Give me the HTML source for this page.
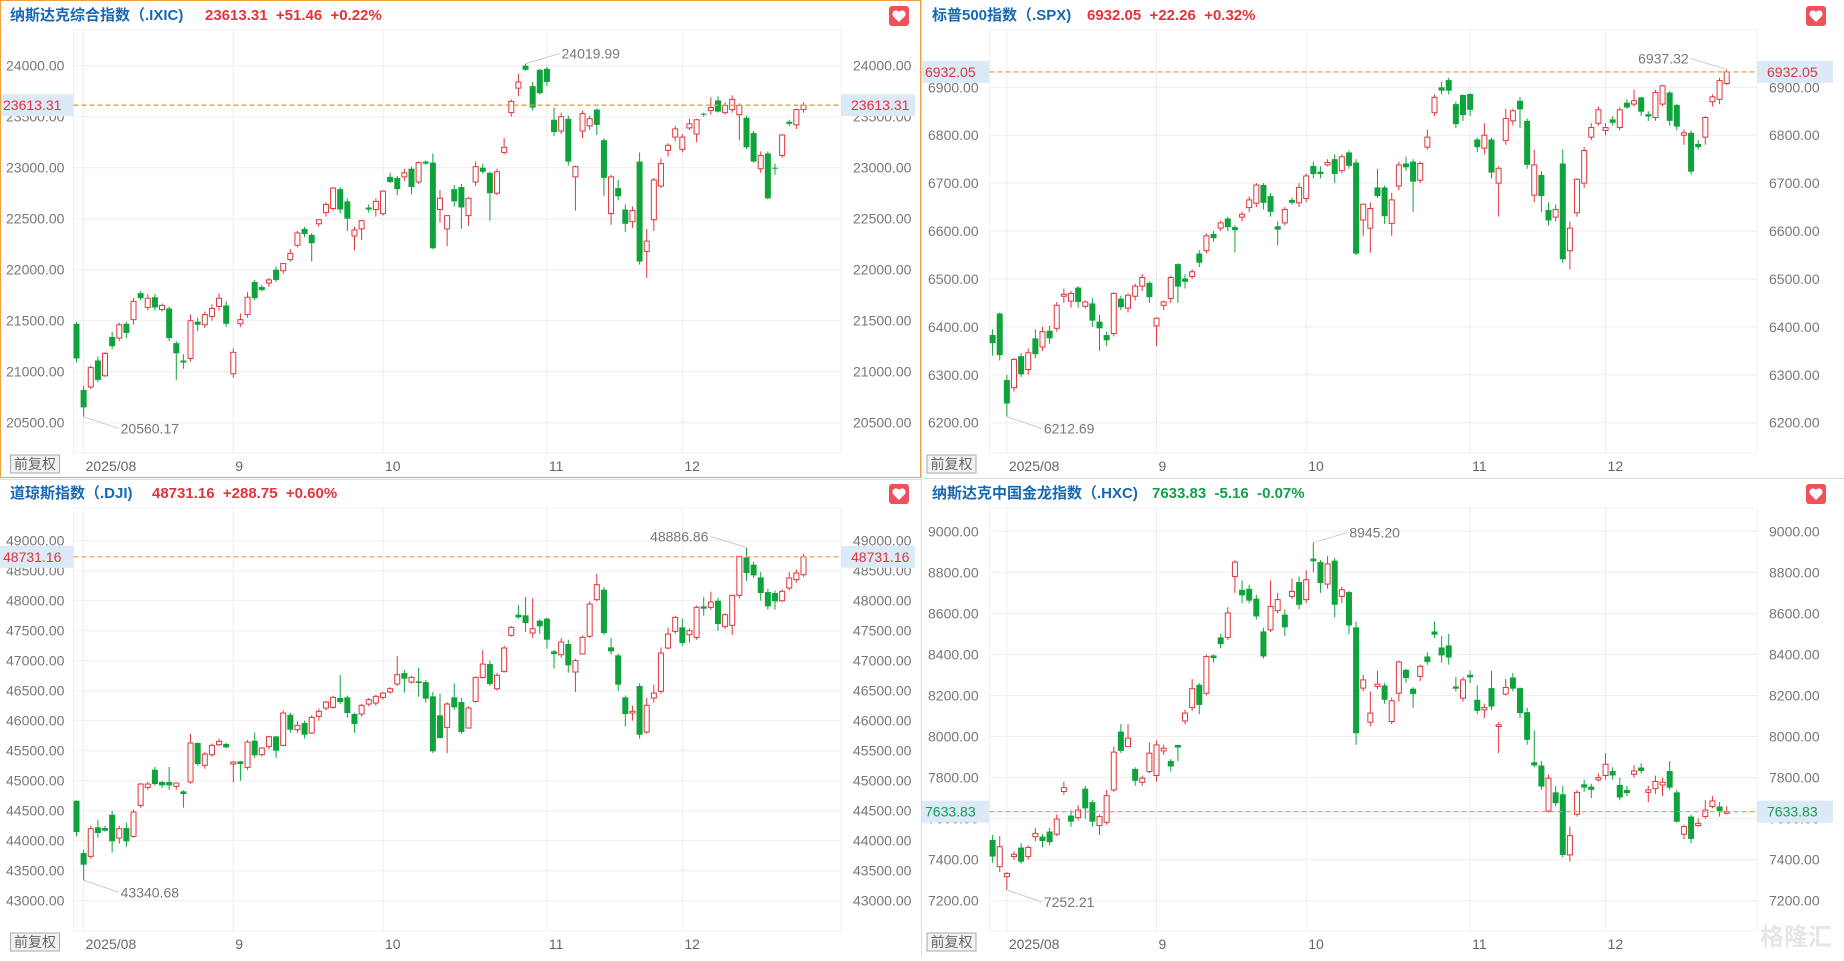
<!DOCTYPE html>
<html><head><meta charset="utf-8">
<style>
html,body{margin:0;padding:0;background:#fff;}
body{width:1844px;height:956px;overflow:hidden;font-family:"Liberation Sans","Noto Sans CJK SC",sans-serif;}
svg text{font-family:"Liberation Sans","Noto Sans CJK SC",sans-serif;}
</style></head><body>
<svg id="chart" width="1844" height="956" viewBox="0 0 1844 956" xmlns="http://www.w3.org/2000/svg"></svg>
<script>
// ===== IXIC =====
const ixicOpen=[21470,20820,20850,21110,20960,21340,21330,21470,21510,21770,21630,21730,21610,21620,21280,21110,21130,21490,21460,21540,21640,21650,20980,21470,21560,21880,21830,21870,22000,21990,22100,22240,22400,22340,22450,22560,22600,22790,22670,22330,22400,22610,22590,22550,22910,22900,22910,22990,22860,23060,23050,22590,22400,22790,22810,22530,22860,23000,22950,22750,23150,23540,23780,24000,23800,23960,23970,23470,23360,23480,22910,23360,23410,23570,23270,22550,22800,22590,22470,23060,22180,22490,22820,23170,23300,23180,23390,23330,23530,23560,23660,23540,23570,23520,23490,23340,22990,23140,23000,23120,23450,23420,23570];
const ixicClose=[21130,20650,21040,20920,21180,21250,21460,21380,21690,21720,21720,21630,21650,21330,21180,21090,21500,21460,21560,21620,21720,21470,21190,21510,21730,21720,21800,21900,21900,22060,22160,22360,22350,22260,22490,22640,22800,22590,22500,22390,22480,22590,22670,22770,22860,22790,22950,22810,23050,23040,22210,22700,22530,22670,22610,22700,23010,22960,22750,22960,23200,23650,23840,23960,23590,23730,23840,23350,23500,23060,23010,23530,23480,23420,22900,22910,22720,22450,22580,22080,22280,22880,23040,23220,23380,23300,23430,23470,23520,23590,23550,23610,23670,23610,23200,23060,23120,22700,22990,23320,23430,23570,23613.31];
const ixicHigh=[21490,20860,21060,21150,21190,21390,21480,21490,21720,21790,21760,21760,21670,21640,21300,21170,21560,21530,21590,21660,21770,21690,21230,21570,21780,21900,21850,21920,22030,22020,22200,22380,22420,22360,22490,22660,22810,22810,22700,22420,22490,22640,22700,22780,22950,22920,22990,23010,23060,23070,23140,22780,22500,22830,22840,22710,23060,23040,22960,22990,23290,23670,23920,24019.99,23840,23970,23990,23590,23540,23510,23020,23560,23510,23580,23290,22930,22880,22640,22620,23150,22400,22900,23090,23240,23410,23330,23480,23480,23540,23690,23700,23640,23710,23630,23510,23360,23160,23160,23040,23330,23470,23580,23640];
const ixicLow=[21090,20560.17,20830,20900,20950,21220,21300,21330,21460,21700,21600,21600,21590,21300,20920,21030,21100,21400,21430,21500,21600,21440,20940,21440,21530,21700,21790,21830,21880,21960,22080,22220,22320,22080,22420,22520,22580,22550,22380,22190,22290,22560,22520,22530,22850,22730,22870,22740,22840,23030,22200,22460,22230,22620,22400,22430,22820,22940,22480,22730,23130,23500,23700,23950,23560,23720,23800,23310,23330,23020,22580,23290,23370,23320,22720,22440,22680,22370,22410,22050,21920,22380,22800,23110,23260,23150,23370,23250,23500,23520,23540,23520,23540,23270,23180,23050,22950,22690,22930,23100,23410,23380,23540];
const ixicTicks=[20500,21000,21500,22000,22500,23000,23500,24000];
// ===== SPX =====
const spxOpen=[6383,6428,6289,6273,6339,6311,6376,6358,6392,6397,6464,6454,6482,6443,6449,6411,6383,6386,6459,6439,6464,6485,6492,6402,6445,6459,6531,6501,6505,6553,6559,6594,6606,6626,6608,6629,6649,6658,6696,6673,6610,6617,6665,6659,6668,6736,6724,6738,6750,6726,6764,6743,6623,6606,6691,6691,6616,6694,6741,6745,6706,6775,6847,6900,6915,6865,6884,6886,6791,6773,6791,6700,6789,6830,6872,6830,6675,6717,6644,6629,6741,6559,6638,6700,6796,6825,6810,6833,6816,6868,6865,6879,6844,6837,6865,6889,6863,6800,6805,6782,6796,6870,6875,6908];
const spxClose=[6366,6341,6240,6332,6301,6346,6343,6390,6376,6445,6468,6470,6452,6452,6413,6397,6372,6470,6441,6466,6485,6503,6462,6418,6452,6503,6484,6494,6515,6534,6590,6585,6617,6608,6602,6635,6665,6696,6659,6640,6603,6645,6659,6691,6715,6719,6719,6743,6719,6755,6736,6553,6656,6647,6673,6631,6665,6738,6733,6703,6741,6796,6879,6893,6893,6823,6842,6853,6775,6800,6722,6731,6835,6851,6854,6738,6738,6673,6622,6645,6541,6606,6708,6768,6816,6853,6816,6826,6853,6858,6872,6849,6839,6889,6903,6830,6818,6805,6724,6775,6837,6880,6914,6932.05];
const spxHigh=[6395,6430,6300,6335,6345,6355,6395,6400,6402,6452,6480,6475,6485,6455,6460,6425,6390,6472,6465,6470,6490,6510,6495,6420,6455,6507,6533,6510,6520,6560,6595,6600,6622,6630,6612,6640,6672,6700,6700,6680,6620,6650,6670,6700,6720,6745,6735,6750,6760,6760,6768,6750,6640,6660,6730,6695,6680,6745,6755,6750,6745,6812,6885,6912,6920,6870,6885,6888,6795,6825,6795,6735,6855,6855,6880,6835,6770,6725,6660,6655,6770,6620,6710,6775,6825,6860,6825,6840,6858,6875,6895,6880,6850,6895,6905,6892,6865,6812,6810,6790,6840,6885,6920,6937.32];
const spxLow=[6340,6330,6212.69,6265,6295,6300,6335,6350,6365,6390,6450,6440,6440,6438,6400,6350,6360,6380,6435,6430,6455,6475,6450,6360,6435,6450,6450,6480,6500,6525,6553,6578,6600,6600,6555,6620,6640,6650,6645,6630,6570,6612,6655,6650,6660,6710,6710,6735,6700,6720,6730,6550,6590,6555,6670,6615,6590,6685,6725,6640,6700,6770,6840,6885,6885,6815,6830,6840,6765,6760,6710,6630,6780,6820,6815,6730,6660,6640,6612,6620,6533,6520,6630,6690,6790,6820,6800,6820,6810,6855,6860,6840,6830,6830,6860,6820,6810,6780,6718,6770,6780,6860,6865,6905];
const spxTicks=[6200,6300,6400,6500,6600,6700,6800,6900];
// ===== DJI =====
const djiOpen=[44667,43794,43739,44222,44211,44433,44044,44211,44072,44589,44889,45183,44978,44978,44906,44822,44978,45628,45256,45433,45600,45611,45278,45322,45222,45667,45433,45567,45739,45589,46100,45850,45961,45794,46072,46211,46222,46378,46389,46111,46111,46278,46294,46389,46478,46611,46794,46644,46656,46644,46406,46089,45889,46389,46311,45878,46322,46722,46944,46533,46822,47422,47767,47756,47461,47667,47700,47156,47100,47278,46811,47111,47406,48017,48183,47222,47089,46389,46128,46578,45811,46378,46489,47211,47489,47556,47433,47389,47906,47889,48000,47567,47589,48089,48722,48600,48389,48144,48128,48000,48211,48350,48433];
const djiClose=[44144,43600,44200,44128,44167,43989,44200,43989,44478,44944,44944,44944,44922,44922,44961,44778,45628,45278,45444,45589,45656,45556,45311,45278,45644,45422,45544,45733,45500,46128,45850,45922,45767,46056,46156,46311,46389,46311,46128,45944,46256,46350,46406,46461,46533,46767,46700,46722,46628,46367,45489,45711,46278,46222,45811,46211,46722,46944,46611,46756,47211,47556,47722,47628,47533,47572,47350,47111,47311,46922,47000,47389,47944,48267,47461,47156,46600,46111,46156,45767,46256,46461,47128,47444,47722,47294,47500,47889,47867,47978,47611,47767,48089,48739,48461,48422,48128,47906,47989,48156,48378,48461,48731.16];
const djiHigh=[44667,43850,44250,44350,44250,44500,44250,44300,44520,44960,44980,45230,45000,45230,44970,44840,45780,45640,45480,45620,45700,45630,45330,45330,45680,45800,45560,45750,45750,46170,46130,45990,46000,46090,46200,46330,46420,46760,46420,46130,46280,46380,46430,46480,46560,47080,46850,46750,46880,46680,46480,46450,46310,46620,46380,46240,46740,47180,47000,46800,47250,47580,47930,48060,48040,47690,47720,47180,47380,47350,47030,47420,47990,48450,48230,47380,47120,46420,46250,46620,46380,46600,47220,47550,47750,47700,47540,47920,48060,48150,48050,47790,48100,48740,48886.86,48650,48480,48200,48170,48190,48480,48520,48780];
const djiLow=[44070,43340.68,43700,44050,44150,43800,43950,43900,44050,44550,44850,44920,44880,44850,44850,44550,44950,45250,45200,45400,45580,45540,44970,45000,45180,45380,45400,45520,45380,45570,45800,45800,45700,45780,46000,46170,46200,46280,46050,45800,46070,46240,46250,46350,46450,46580,46470,46620,46400,46300,45460,45700,45460,46180,45780,45870,46300,46700,46580,46500,46800,47400,47700,47480,47380,47450,47200,46870,47050,46800,46480,47100,47380,47990,47430,47100,46500,45900,46000,45700,45780,46300,46450,47190,47450,47250,47300,47350,47750,47850,47500,47530,47430,48040,48330,48380,48000,47850,47850,47980,48170,48300,48400];
const djiTicks=[43000,43500,44000,44500,45000,45500,46000,46500,47000,47500,48000,48500,49000];
// ===== HXC =====
const hxcOpen=[7496,7366,7317,7415,7459,7415,7512,7512,7537,7524,7732,7615,7605,7746,7680,7566,7582,7740,8024,7951,7842,7777,7829,7810,7930,7881,7959,8076,8141,8252,8211,8395,8483,8483,8780,8715,8720,8672,8512,8520,8613,8594,8683,8753,8667,8867,8850,8743,8857,8683,8704,8532,8236,8070,8244,8249,8073,8211,8325,8233,8293,8390,8512,8434,8444,8244,8187,8301,8179,8130,8236,8049,8207,8288,8236,8119,7875,7859,7637,7728,7719,7423,7621,7767,7756,7789,7810,7832,7764,7740,7816,7849,7728,7746,7764,7832,7728,7524,7610,7566,7610,7659,7659,7626];
const hxcClose=[7415,7463,7333,7426,7390,7459,7528,7491,7485,7598,7751,7585,7642,7650,7585,7610,7712,7924,7930,7992,7784,7797,7919,7959,7943,7854,7946,8114,8233,8154,8390,8382,8450,8602,8850,8688,8662,8585,8390,8634,8667,8532,8707,8642,8764,8854,8748,8841,8642,8715,8541,8016,8276,8114,8255,8179,8174,8363,8285,8207,8342,8363,8496,8395,8385,8233,8276,8288,8125,8141,8146,8057,8239,8233,8114,7984,7859,7756,7797,7675,7423,7517,7728,7751,7740,7800,7865,7810,7703,7724,7832,7832,7740,7781,7777,7751,7585,7561,7501,7577,7642,7686,7637,7633.83];
const hxcHigh=[7520,7515,7340,7440,7480,7470,7555,7525,7555,7620,7780,7640,7665,7760,7690,7620,7740,7950,8060,8060,7850,7810,7970,7980,7960,7890,7960,8130,8280,8260,8400,8400,8500,8630,8860,8760,8740,8690,8530,8760,8700,8620,8770,8780,8810,8945.20,8860,8880,8870,8730,8710,8560,8300,8220,8320,8260,8190,8370,8330,8240,8350,8410,8560,8490,8500,8290,8290,8320,8250,8160,8320,8070,8280,8310,8240,8140,8030,7880,7815,7760,7760,7560,7740,7790,7770,7820,7920,7850,7800,7760,7860,7870,7760,7810,7800,7880,7740,7570,7620,7600,7690,7710,7680,7660];
const hxcLow=[7385,7340,7252.21,7400,7380,7400,7490,7460,7470,7515,7715,7560,7590,7600,7560,7520,7570,7730,7920,7970,7760,7760,7820,7780,7910,7830,7880,8060,8125,8110,8200,8360,8430,8470,8700,8650,8650,8570,8380,8510,8600,8490,8670,8620,8650,8800,8700,8720,8580,8650,8500,7960,8220,8050,8230,8160,8060,8170,8260,8140,8270,8350,8480,8360,8350,8220,8170,8260,8110,8090,8130,7920,8200,8220,8090,7960,7850,7740,7630,7660,7410,7390,7610,7730,7700,7780,7790,7790,7690,7710,7800,7820,7680,7720,7710,7740,7580,7500,7480,7560,7600,7650,7610,7620];
const hxcTicks=[7200,7400,7600,7800,8000,8200,8400,8600,8800,9000];
const monthLabels=["2025/08","9","10","11","12"];
const ixicMonthIdx=[1,22,43,66,85];
const spxMonthIdx=[2,23,44,67,86];

const NS="http://www.w3.org/2000/svg";
const svg=document.getElementById('chart');
function mk(tag,attrs,parent){const e=document.createElementNS(NS,tag);for(const k in attrs)e.setAttribute(k,attrs[k]);(parent||svg).appendChild(e);return e;}
function txt(s,attrs,parent){const e=mk('text',attrs,parent);e.textContent=s;return e;}
const RED='#e2343c',GREEN='#0fa33c',GRID='#eeeeee',AX='#777';
const SP='\u00a0\u00a0';

function panel(cfg){
  const g=mk('g',{transform:'translate('+cfg.ox+','+cfg.oy+')'});
  
  
  const L=cfg.pl,R=cfg.pr,T=30,B=453;
  const y=v=>cfg.yA+(v-cfg.vA)*(cfg.yB-cfg.yA)/(cfg.vB-cfg.vA);
  const n=cfg.o.length;
  const step=(cfg.xLast-cfg.xFirst)/(n-1);
  const x=i=>cfg.xFirst+i*step;
  const fr=mk('rect',{x:L,y:T,width:R-L,height:B-T,fill:'none',stroke:'#f0f0f0'},g);
  
  
  cfg.ticks.forEach(t=>{
    const yy=y(t);
    const gl=mk('line',{x1:L,x2:R,y1:yy,y2:yy,stroke:GRID},g);
    
    
    const s=t.toFixed(2);
    const lt=txt(s,{x:6,y:yy+5,'font-size':14,fill:AX,'clip-path':'url(#clipL'+cfg.id+')'},g);
    
    
    const rt=txt(s,{x:cfg.rlx,y:yy+5,'font-size':14,fill:AX},g);
    
    
  });
  const cp=mk('clipPath',{id:'clipL'+cfg.id},g);mk('rect',{x:0,y:0,width:L-2,height:478},cp);
  cfg.monthIdx.forEach((mi,k)=>{
    const xx=x(mi);
    const ml=mk('line',{x1:xx,x2:xx,y1:T,y2:B,stroke:GRID},g);
    
    
    const mt=txt(monthLabels[k],{x:xx+2,y:471,'font-size':14,fill:'#666'},g);
    
    
  });
  for(let i=0;i<n;i++){
    const o=cfg.o[i],c=cfg.c[i],h=cfg.h[i],l=cfg.l[i];
    const up=c>=o,col=up?RED:GREEN,xx=x(i);
    const cg=mk('g',{},g);
    
    
    mk('line',{x1:xx,x2:xx,y1:y(h),y2:y(l),stroke:col,'stroke-width':1},cg);
    const by=Math.min(y(o),y(c)),bh=Math.max(Math.abs(y(o)-y(c)),1);
    if(up) mk('rect',{x:xx-2.5,y:by,width:5,height:bh,fill:'#fff',stroke:col,'stroke-width':1},cg);
    else mk('rect',{x:xx-3,y:by,width:6,height:bh,fill:col},cg);
  }
  const last=cfg.c[n-1],ly=y(last);
  const dl=mk('line',{x1:L,x2:R,y1:ly,y2:ly,stroke:'#f0923a','stroke-width':1.2,'stroke-dasharray':'5,3'},g);
  
  
  const pc=cfg.neg?'#12a04a':'#e2343c';
  const lb=mk('rect',{x:0,y:ly-11,width:L,height:22,fill:'#dceaf7'},g);
  
  
  txt(last.toFixed(2),{x:3,y:ly+5,'font-size':14,fill:pc},g);
  const rb=mk('rect',{x:R,y:ly-11,width:cfg.rbw,height:22,fill:'#dceaf7'},g);
  
  
  txt(last.toFixed(2),{x:cfg.rlx-2,y:ly+5,'font-size':14,fill:pc},g);
  let mi=0,ni=0;
  for(let i=0;i<n;i++){if(cfg.h[i]>cfg.h[mi])mi=i;if(cfg.l[i]<cfg.l[ni])ni=i;}
  const mx=x(mi),my=y(cfg.h[mi]);
  const a=cfg.maxDir;
  mk('line',{x1:mx,y1:my,x2:mx+a[0],y2:my+a[1],stroke:'#ccc'},g);
  const mxt=txt(cfg.h[mi].toFixed(2),{x:mx+a[0]+(a[0]>0?2:-2),y:my+a[1]+5,'font-size':14,fill:'#777','text-anchor':a[0]>0?'start':'end'},g);
  
  
  const nx=x(ni),ny=y(cfg.l[ni]);
  mk('line',{x1:nx,y1:ny,x2:nx+35,y2:ny+12,stroke:'#ccc'},g);
  const mnt=txt(cfg.l[ni].toFixed(2),{x:nx+37,y:ny+17,'font-size':14,fill:'#777'},g);
  
  
  const tt=txt('',{x:10,y:20,'font-size':15,'font-weight':'bold'},g);
  
  
  const t1=mk('tspan',{fill:'#1768b4'},tt);t1.textContent=cfg.title;
  const t2=mk('tspan',{fill:pc,x:cfg.valX},tt);t2.textContent=cfg.quote.join(SP);
  const hb=mk('g',{transform:'translate('+cfg.heartX+',6)'},g);
  
  
  mk('rect',{x:0,y:0,width:20,height:20,rx:3,fill:'#f0505c'},hb);
  mk('path',{d:'M10 16 L4 10 A3.2 3.2 0 0 1 10 6 A3.2 3.2 0 0 1 16 10 Z',fill:'#fff'},hb);
  const ab=mk('g',{},g);
  
  
  mk('rect',{x:cfg.btnX,y:455,width:49,height:18,fill:'#f2f2f2',stroke:'#aaa'},ab);
  txt('前复权',{x:cfg.btnX+24.5,y:469,'font-size':14,fill:'#666','text-anchor':'middle'},ab);
}

panel({id:1,name:'ixic',ox:0,oy:0,pl:73.5,pr:841,rlx:853,rbw:74,o:ixicOpen,c:ixicClose,h:ixicHigh,l:ixicLow,ticks:ixicTicks,
  vA:24000,yA:65.7,vB:20500,yB:422.7,xFirst:76.5,xLast:803.5,monthIdx:ixicMonthIdx,maxDir:[34,-10],
  title:'纳斯达克综合指数（.IXIC)',quote:['23613.31','+51.46','+0.22%'],valX:205,heartX:889,btnX:10.5});
panel({id:2,name:'spx',ox:922,oy:0,pl:67.6,pr:835,rlx:847,rbw:76,o:spxOpen,c:spxClose,h:spxHigh,l:spxLow,ticks:spxTicks,
  vA:6900,yA:87.3,vB:6200,yB:422.7,xFirst:70.6,xLast:804.7,monthIdx:spxMonthIdx,maxDir:[-36,-11],
  title:'标普500指数（.SPX)',quote:['6932.05','+22.26','+0.32%'],valX:165,heartX:884,btnX:5});
panel({id:3,name:'dji',ox:0,oy:478,pl:73.5,pr:841,rlx:853,rbw:74,o:djiOpen,c:djiClose,h:djiHigh,l:djiLow,ticks:djiTicks,
  vA:49000,yA:62.7,vB:43000,yB:422.7,xFirst:76.5,xLast:803.5,monthIdx:ixicMonthIdx,maxDir:[-36,-11],
  title:'道琼斯指数（.DJI)',quote:['48731.16','+288.75','+0.60%'],valX:152,heartX:889,btnX:10.5});
panel({id:4,name:'hxc',ox:922,oy:478,pl:67.6,pr:835,rlx:847,rbw:76,o:hxcOpen,c:hxcClose,h:hxcHigh,l:hxcLow,ticks:hxcTicks,neg:true,
  vA:9000,yA:53.3,vB:7200,yB:422.7,xFirst:70.6,xLast:804.7,monthIdx:spxMonthIdx,maxDir:[34,-10],
  title:'纳斯达克中国金龙指数（.HXC)',quote:['7633.83','-5.16','-0.07%'],valX:230,heartX:884,btnX:5});

const b1=mk('rect',{x:0.5,y:0.5,width:920,height:477,fill:'none',stroke:'#f0a040'});


const s1=mk('line',{x1:921.5,x2:921.5,y1:0,y2:956,stroke:'#dddddd'});


const s2=mk('line',{x1:922,x2:1844,y1:478.5,y2:478.5,stroke:'#dddddd'});


const s3=mk('line',{x1:0,x2:921,y1:479.5,y2:479.5,stroke:'#dddddd'});


const wm=txt('格隆汇',{x:1760,y:945,'font-size':24,fill:'#e6e6e6','font-weight':'bold'});


</script>
</body></html>
